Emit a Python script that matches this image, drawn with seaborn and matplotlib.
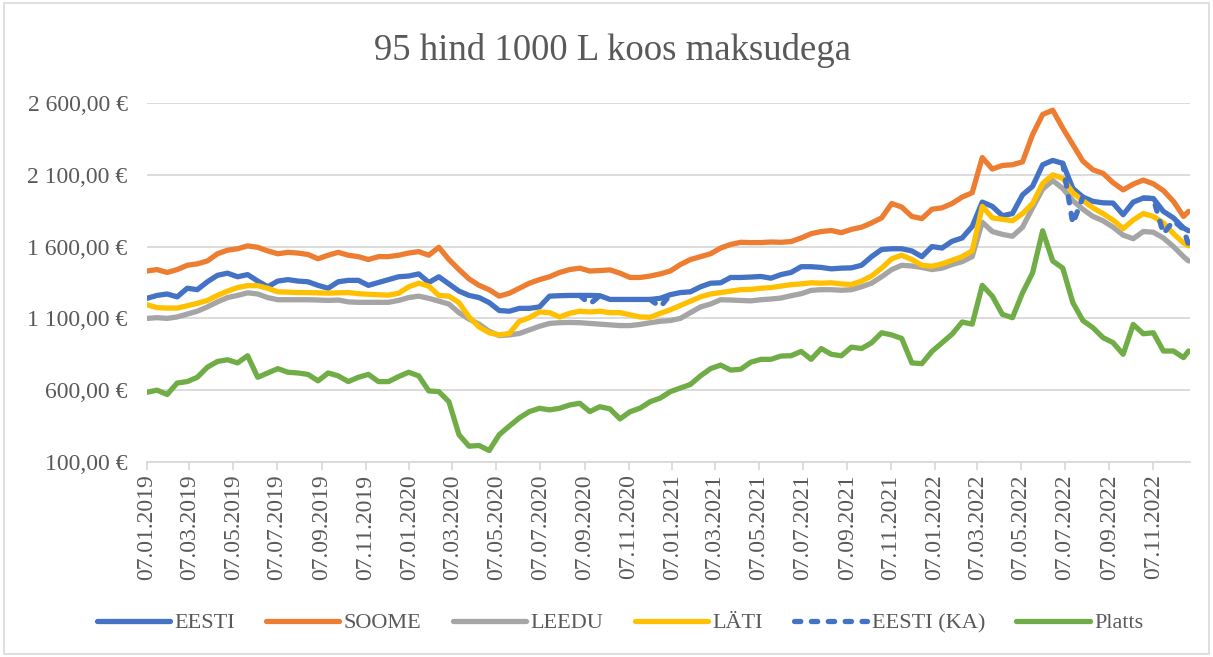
import numpy as np
import pandas as pd
import matplotlib
matplotlib.use("Agg")
import matplotlib.pyplot as plt
import matplotlib.dates as mdates
from matplotlib.lines import Line2D
from matplotlib.patches import Rectangle
import seaborn as sns

# ---------------- data (bi-weekly readings, 07.01.2019 .. 26.12.2022) ----------------
dates = list(pd.date_range("2019-01-07", periods=104, freq="14D")) + [pd.Timestamp("2022-12-26")]

eesti = [1240, 1260, 1270, 1250, 1310, 1300, 1355, 1400, 1415, 1390, 1405, 1360, 1320, 1360, 1370,
         1360, 1355, 1330, 1310, 1355, 1365, 1365, 1330, 1350, 1370, 1390, 1395, 1410, 1350, 1390,
         1340, 1290, 1260, 1245, 1210, 1155, 1150, 1170, 1170, 1180, 1255, 1258, 1260, 1260, 1260,
         1258, 1232, 1232, 1232, 1232, 1232, 1240, 1265, 1280, 1285, 1320, 1345, 1348, 1385, 1385,
         1388, 1392, 1380, 1405, 1420, 1460, 1460, 1455, 1445, 1450, 1452, 1470, 1530, 1580, 1585,
         1585, 1570, 1530, 1600, 1590, 1637, 1660, 1740, 1910, 1880, 1815, 1830, 1960, 2020, 2170,
         2200, 2180, 2005, 1945, 1915, 1905, 1903, 1822, 1910, 1938, 1935, 1845, 1800, 1730, 1710]

soome = [1430, 1440, 1420, 1440, 1470, 1480, 1500, 1550, 1575, 1585, 1605, 1595, 1570, 1550, 1560,
         1555, 1545, 1515, 1540, 1560, 1540, 1530, 1510, 1530, 1530, 1540, 1555, 1565, 1540, 1595,
         1510, 1440, 1375, 1330, 1300, 1255, 1275, 1310, 1345, 1370, 1390, 1420, 1440, 1450, 1430,
         1433, 1438, 1415, 1385, 1385, 1395, 1410, 1430, 1475, 1510, 1530, 1550, 1590, 1615, 1630,
         1628, 1628, 1632, 1630, 1635, 1660, 1690, 1705, 1712, 1697, 1720, 1735, 1765, 1800, 1900,
         1875, 1810, 1795, 1860, 1870, 1900, 1945, 1975, 2220, 2140, 2165, 2170, 2190, 2380, 2520,
         2550, 2425, 2310, 2195, 2135, 2110, 2045, 1995, 2035, 2063, 2037, 1990, 1915, 1810, 1845]

leedu = [1100, 1105, 1100, 1110, 1130, 1150, 1180, 1215, 1245, 1260, 1278, 1270, 1245, 1230, 1230,
         1230, 1230, 1228, 1225, 1228, 1215, 1212, 1212, 1212, 1212, 1225, 1245, 1255, 1240, 1220,
         1200, 1140, 1095, 1060, 1010, 980, 985, 995, 1020, 1045, 1065, 1070, 1072, 1070, 1065,
         1060, 1055, 1050, 1050, 1058, 1070, 1080, 1085, 1100, 1140, 1180, 1200, 1230, 1228, 1225,
         1222, 1230, 1235, 1242, 1258, 1272, 1295, 1300, 1300, 1296, 1300, 1320, 1345, 1390, 1440,
         1470, 1465, 1455, 1440, 1450, 1475, 1495, 1530, 1770, 1705, 1685, 1672, 1735, 1870, 2000,
         2060, 2005, 1920, 1860, 1810, 1780, 1735, 1680, 1655, 1705, 1700, 1660, 1600, 1530, 1500]

lati = [1195, 1175, 1172, 1172, 1188, 1205, 1225, 1260, 1290, 1315, 1328, 1328, 1310, 1285, 1283,
        1280, 1280, 1278, 1276, 1278, 1280, 1272, 1268, 1265, 1262, 1275, 1320, 1345, 1325, 1260,
        1255, 1210, 1110, 1040, 1000, 985, 995, 1080, 1105, 1145, 1140, 1110, 1135, 1150, 1145,
        1150, 1140, 1140, 1125, 1110, 1108, 1135, 1160, 1190, 1220, 1250, 1270, 1280, 1290, 1300,
        1302, 1310, 1315, 1325, 1335, 1340, 1348, 1345, 1348, 1340, 1336, 1360, 1395, 1450, 1515,
        1540, 1510, 1470, 1463, 1480, 1505, 1530, 1570, 1880, 1800, 1790, 1780, 1830, 1900, 2040,
        2100, 2075, 1975, 1920, 1870, 1830, 1785, 1725, 1785, 1830, 1810, 1765, 1690, 1625, 1605]

N = None
eesti_ka = [N] * 43 + [1260, 1200, 1258] + [N] * 4 + [1232, 1180, 1265] + [N] * 38 + \
           [2180, 1760, 1945] + [N] * 5 + [1938, 1935, 1690, 1780, 1720, 1615]

platts = [586, 600, 570, 650, 660, 690, 760, 800, 812, 790, 840, 690, 720, 750, 725,
          720, 710, 665, 720, 700, 660, 690, 710, 660, 660, 695, 725, 700, 595, 590,
          520, 290, 210, 215, 180, 290, 350, 407, 451, 474, 463, 474, 497, 509, 451,
          485, 470, 400, 450, 475, 520, 545, 590, 615, 640, 700, 750, 775, 740, 746,
          795, 815, 815, 838, 840, 870, 815, 890, 850, 840, 900, 890, 930, 1000, 985,
          960, 790, 785, 870, 930, 990, 1075, 1060, 1330, 1255, 1128, 1105, 1278, 1417, 1710,
          1500, 1450, 1210, 1085, 1035, 966, 931, 850, 1058, 993, 1000, 873, 873, 827, 873]

names = ["EESTI", "SOOME", "LEEDU", "LÄTI", "EESTI (KA)", "Platts"]
colors = ["#4472C4", "#ED7D31", "#A5A5A5", "#FFC000", "#4472C4", "#70AD47"]
title = "95 hind 1000 L koos maksudega"

# ---------------- plotting ----------------
sns.set_style("white")
plt.rcParams["font.family"] = ["Liberation Serif", "DejaVu Serif"]
TXT = "#595959"
GRID = "#D9D9D9"

fig = plt.figure(figsize=(12.13, 6.57), dpi=100)
ax = fig.add_axes([147 / 1213, 1 - 462 / 657, (1190 - 147) / 1213, (462 - 103) / 657])

LW = 3.8
DASH = [1.2, 2.0]
all_series = [eesti, soome, leedu, lati, eesti_ka, platts]
for name, vals, col in zip(names, all_series, colors):
    df = pd.DataFrame({"date": dates, "value": vals})
    df["value"] = pd.to_numeric(df["value"])
    if name == "EESTI (KA)":
        df["seg"] = df["value"].isna().cumsum()
        df = df.dropna()
        sns.lineplot(data=df, x="date", y="value", units="seg", estimator=None, ax=ax,
                     color=col, lw=LW, legend=False)
        n = df["seg"].nunique()
        for ln in ax.lines[-n:]:
            ln.set_dashes(DASH)
            ln.set_dash_capstyle("round")
    else:
        sns.lineplot(data=df, x="date", y="value", ax=ax, color=col, lw=LW,
                     legend=False)
        ax.lines[-1].set_solid_capstyle("round")
        ax.lines[-1].set_solid_joinstyle("round")

ax.set_ylim(100, 2600)
ax.set_yticks([100, 600, 1100, 1600, 2100, 2600])
ax.yaxis.set_major_formatter(
    plt.FuncFormatter(lambda v, p: f"{v:,.2f} €".replace(",", " ").replace(".", ",")))
ax.set_xlim(pd.Timestamp("2019-01-07"), pd.Timestamp("2022-12-28"))
xt = pd.date_range("2019-01-01", "2022-12-01", freq="2MS") + pd.Timedelta(days=6)
ax.set_xticks(xt)
ax.xaxis.set_major_formatter(mdates.DateFormatter("%d.%m.%Y"))

ax.grid(axis="y", color=GRID, lw=1.3)
ax.grid(axis="x", visible=False)
ax.set_axisbelow(True)
for s in ["top", "right", "left"]:
    ax.spines[s].set_visible(False)
ax.spines["bottom"].set_color(GRID)
ax.spines["bottom"].set_linewidth(1.3)
ax.tick_params(axis="x", direction="out", length=6, width=1.3, color=GRID,
               labelsize=17, labelcolor=TXT, labelrotation=90, pad=3, bottom=True)
ax.tick_params(axis="y", length=0, labelsize=17, labelcolor=TXT, pad=14)
ax.set_xlabel("")
ax.set_ylabel("")

fig.text(612 / 1213, 1 - 50 / 657, title, ha="center", va="center",
         fontsize=26.5, color=TXT)

handles = []
for name, col in zip(names, colors):
    if name == "EESTI (KA)":
        h = Line2D([], [], color=col, lw=LW, dashes=DASH, dash_capstyle="round")
    else:
        h = Line2D([], [], color=col, lw=LW, solid_capstyle="round")
    handles.append(h)
fig.legend(handles, names, loc="center", bbox_to_anchor=(0.511, 1 - 623 / 657), ncol=6,
           frameon=False, fontsize=16, labelcolor=TXT, handlelength=3.3,
           handletextpad=0.2, columnspacing=1.4)

fig.add_artist(Rectangle((0.003, 0.004), 0.994, 0.992, transform=fig.transFigure,
                         fill=False, edgecolor=GRID, lw=1.2))

fig.savefig("out.png", dpi=100)
